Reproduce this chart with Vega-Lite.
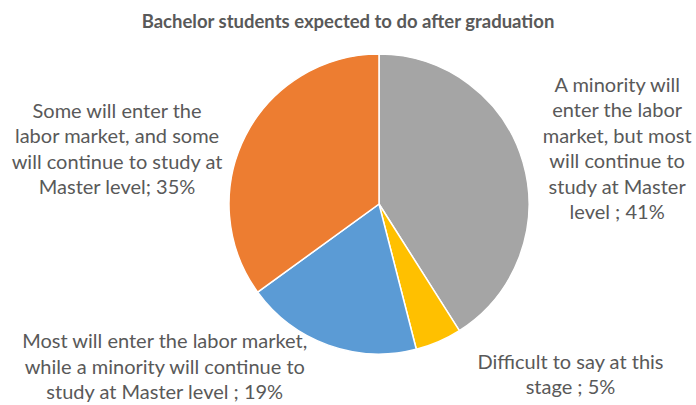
{
  "$schema": "https://vega.github.io/schema/vega-lite/v6.json",
  "width": 634,
  "height": 328,
  "autosize": {"type": "none"},
  "padding": {"left": 62, "top": 40, "right": 0, "bottom": 37},
  "background": "white",
  "title": {
    "text": "Bachelor students expected to do after graduation",
    "font": "Lato",
    "fontSize": 18.5,
    "fontWeight": "bold",
    "color": "#595959",
    "anchor": "middle",
    "dx": -31,
    "dy": 6,
    "offset": 7
  },
  "view": {"stroke": null},
  "data": {
    "values": [
      {"key": "gray", "order": 1, "value": 41, "category": "A minority will enter the labor market, but most will continue to study at Master level", "label": "A minority will\nenter the labor\nmarket, but most\nwill continue to\nstudy at Master\nlevel ; 41%"},
      {"key": "yellow", "order": 2, "value": 5, "category": "Difficult to say at this stage", "label": "Difficult to say at this\nstage ; 5%"},
      {"key": "blue", "order": 3, "value": 19, "category": "Most will enter the labor market, while a minority will continue to study at Master level", "label": "Most will enter the labor market,\nwhile a minority will continue to\nstudy at Master level ; 19%"},
      {"key": "orange", "order": 4, "value": 35, "category": "Some will enter the labor market, and some will continue to study at Master level", "label": "Some will enter the\nlabor market, and some\nwill continue to study at\nMaster level; 35%"}
    ]
  },
  "encoding": {
    "theta": {"field": "value", "type": "quantitative", "stack": true},
    "order": {"field": "order", "type": "quantitative"}
  },
  "layer": [
    {
      "mark": {"type": "arc", "radius": 150, "stroke": "white", "strokeWidth": 1.5},
      "encoding": {
        "color": {
          "field": "key",
          "type": "nominal",
          "scale": {"domain": ["gray", "yellow", "blue", "orange"], "range": ["#A5A5A5", "#FFC000", "#5B9BD5", "#ED7D31"]},
          "legend": null
        }
      }
    },
    {
      "mark": {"type": "text", "radius": 248, "dx": 0, "dy": -49, "align": "center", "baseline": "middle", "lineBreak": "\n", "lineHeight": 25.5, "font": "Lato", "fontSize": 20, "color": "#595959"},
      "encoding": {"text": {"condition": {"test": "datum.key === 'gray'", "field": "label"}, "value": ""}}
    },
    {
      "mark": {"type": "text", "radius": 185, "dx": 118, "dy": -11, "align": "center", "baseline": "middle", "lineBreak": "\n", "lineHeight": 25.5, "font": "Lato", "fontSize": 20, "color": "#595959"},
      "encoding": {"text": {"condition": {"test": "datum.key === 'yellow'", "field": "label"}, "value": ""}}
    },
    {
      "mark": {"type": "text", "radius": 172, "dx": -156, "dy": -23.5, "align": "center", "baseline": "middle", "lineBreak": "\n", "lineHeight": 25.5, "font": "Lato", "fontSize": 20, "color": "#595959"},
      "encoding": {"text": {"condition": {"test": "datum.key === 'blue'", "field": "label"}, "value": ""}}
    },
    {
      "mark": {"type": "text", "radius": 294, "dx": 0, "dy": 41, "align": "center", "baseline": "middle", "lineBreak": "\n", "lineHeight": 25.5, "font": "Lato", "fontSize": 20, "color": "#595959"},
      "encoding": {"text": {"condition": {"test": "datum.key === 'orange'", "field": "label"}, "value": ""}}
    }
  ]
}
